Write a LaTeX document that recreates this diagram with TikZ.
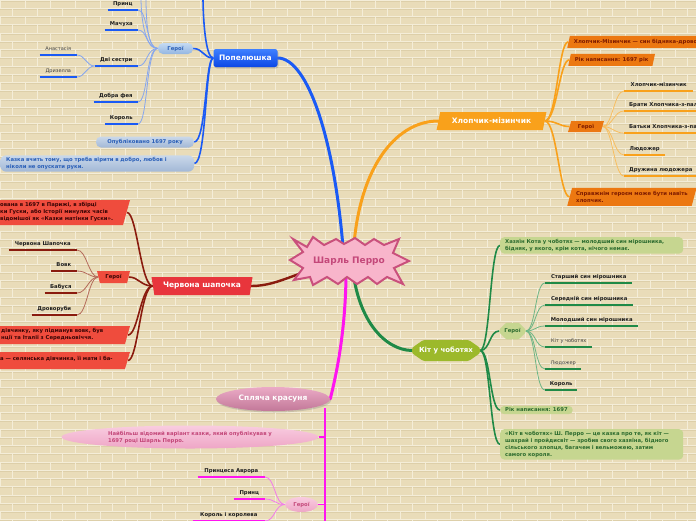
\documentclass[tikz,border=0pt]{standalone}
\usepackage{fontspec}
\setmainfont{DejaVu Sans}
\usetikzlibrary{shapes.geometric,shapes.misc,shadows}
\definecolor{bgc}{HTML}{E9DCB9}
\definecolor{mortar}{HTML}{F4EDD8}
\definecolor{brd}{HTML}{DDCFA9}
\definecolor{blu}{HTML}{1A5AF5}
\definecolor{blul}{HTML}{86A6EE}
\definecolor{popt}{HTML}{3F80FF}
\definecolor{popb}{HTML}{0B47E6}
\definecolor{bgt}{HTML}{C4DAF2}
\definecolor{bgb}{HTML}{94B6E2}
\definecolor{bopt}{HTML}{CAD8EA}
\definecolor{bopb}{HTML}{A2B8D6}
\definecolor{btx}{HTML}{2A5FB8}
\definecolor{org}{HTML}{F9A11B}
\definecolor{orgd}{HTML}{EC7811}
\definecolor{orgl}{HTML}{F8BE60}
\definecolor{orgt}{HTML}{7E1B00}
\definecolor{grn}{HTML}{1F8A47}
\definecolor{grnl}{HTML}{6DB585}
\definecolor{grnf}{HTML}{9CB92B}
\definecolor{grnb}{HTML}{C6D690}
\definecolor{grnt}{HTML}{2C6B2E}
\definecolor{rdd}{HTML}{8A1B0E}
\definecolor{rddl}{HTML}{B46A5A}
\definecolor{rdf}{HTML}{E8353C}
\definecolor{rdb}{HTML}{EF4C3D}
\definecolor{rdt}{HTML}{3A0505}
\definecolor{mag}{HTML}{FF14F0}
\definecolor{magl}{HTML}{F27BEA}
\definecolor{pinkf}{HTML}{F8B5CB}
\definecolor{pinkd}{HTML}{C9507C}
\definecolor{pinkt}{HTML}{C4487A}
\definecolor{splt}{HTML}{EBAAC6}
\definecolor{splb}{HTML}{C27898}
\definecolor{nait}{HTML}{F9CCE0}
\definecolor{naib}{HTML}{EEA6C6}
\pgfdeclarelayer{bricks}
\pgfdeclarelayer{edges}
\pgfdeclarelayer{fills}
\pgfsetlayers{bricks,edges,fills,main}
\tikzset{
  sm/.style={font=\bfseries\fontsize{5.3}{7}\selectfont},
  lite/.style={font=\fontsize{5}{6.5}\selectfont, text=black!75},
  big/.style={font=\bfseries\fontsize{7.5}{9}\selectfont, text=white},
  bar/.style={append after command={(\tikzlastnode.south west) edge[draw=#1, line width=2.3pt] (\tikzlastnode.south east)}},
  leaf/.style={sm, text=black!88, inner xsep=3pt, inner ysep=3.5pt, text height=3.9pt, text depth=1.1pt},
  bleaf/.style={leaf, anchor=south east, minimum width=#1, bar=blu},
  rleaf/.style={leaf, anchor=south east, minimum width=#1, bar=rdd},
  mleaf/.style={leaf, anchor=south east, minimum width=#1, bar=mag},
  oleaf/.style={leaf, anchor=south west, minimum width=#1, inner xsep=5pt, bar=org},
  gleaf/.style={leaf, anchor=south west, minimum width=#1, bar=grn},
  mainedge/.style={line width=3pt, line cap=round},
  subedge/.style={line width=1.6pt},
  leafedge/.style={line width=0.8pt},
  shad/.style={drop shadow={opacity=0.3, shadow xshift=1pt, shadow yshift=-1.5pt}},
  popn/.style={big, rounded corners=2.5pt, minimum width=64pt, minimum height=18pt, top color=popt, bottom color=popb, shad},
  orn/.style={big, trapezium, trapezium left angle=70, trapezium right angle=110, trapezium stretches=true, fill=org, minimum width=110pt, minimum height=18pt, inner sep=1pt},
  osub/.style={orn, sm, text=orgt, fill=orgd, minimum width=0pt, minimum height=12pt, inner xsep=4pt, align=left},
  rdn/.style={big, trapezium, shape border rotate=180, trapezium left angle=75, trapezium right angle=75, trapezium stretches=true, fill=rdf, minimum width=102pt, minimum height=18pt, inner sep=1pt},
  kitn/.style={big, font=\bfseries\fontsize{7}{8}\selectfont, chamfered rectangle, chamfered rectangle xsep=6pt, chamfered rectangle angle=55, rounded corners=1.5pt, fill=grnf, minimum width=68pt, minimum height=21pt, inner sep=1pt},
  spln/.style={big, ellipse, minimum width=114pt, minimum height=24pt, inner sep=0pt, top color=splt, bottom color=splb, shad},
  bpill/.style={sm, text=btx, rounded corners=5pt, minimum height=11pt, inner sep=1pt, top color=bgt, bottom color=bgb},
  gbox/.style={sm, text=grnt, fill=grnb, rounded corners=4pt, align=left, inner xsep=5pt, inner ysep=2pt},
  mell/.style={sm, text=pinkt, ellipse, inner sep=0pt, top color=nait, bottom color=naib},
  burst/.style={fill=pinkf, draw=pinkd, line width=2pt}
}
\begin{document}
\begin{tikzpicture}[x=1pt,y=-1pt]
\useasboundingbox (0,0) rectangle (696,520);
\begin{pgfonlayer}{bricks}
\fill[bgc] (0,0) rectangle (696,520);
\foreach \r in {0,...,63}{
  \pgfmathsetmacro\yy{\r*8.25}
  \pgfmathsetmacro\off{mod(\r,2)*12.5}
  \draw[brd, line width=0.5pt] (0,\yy+0.8) -- (696,\yy+0.8);
  \draw[mortar, line width=0.8pt] (0,\yy) -- (696,\yy);
  \foreach \c in {-1,...,28}{
    \draw[mortar, line width=0.8pt] ({\c*25+\off},\yy) -- ({\c*25+\off},{\yy+8.25});
  }
}
\end{pgfonlayer}

% centre
\draw[burst] (293,239) -- (307,247) -- (313,237) -- (324,245) -- (336,239) -- (344,244) -- (355,238) -- (365,245) -- (374,239) -- (384,245) -- (399,239) -- (393,253) -- (409,261) -- (394,268) -- (403,284) -- (387,277) -- (377,284) -- (368,277) -- (357,284) -- (347,277) -- (338,284) -- (327,277) -- (313,285) -- (310,277) -- (294,280) -- (303,268) -- (290,260) -- (303,252) -- cycle;
\node[font=\bfseries\fontsize{9}{10}\selectfont, text=pinkt] (cp) at (349,261) {Шарль Перро};

% main topics
\node[popn] (pop) at (245.5,58) {Попелюшка};
\node[orn] (klm) at (491.5,121) {Хлопчик-мізинчик};
\node[kitn] (kit) at (446,350.5) {Кіт у чоботях};
\node[rdn] (chs) at (202,286) {Червона шапочка};
\node[spln] (spl) at (273,399) {Спляча красуня};

% blue subtree
\node[bpill, minimum width=35pt] (bg) at (175.5,48.5) {Герої};
\node[bpill, minimum width=98pt, top color=bopt, bottom color=bopb] (bop) at (145,142) {Опубліковано 1697 року};
\node[bpill, anchor=west, align=left, text width=182pt, inner xsep=6pt, inner ysep=2pt, rounded corners=6pt, top color=bopt, bottom color=bopb] (bka) at (0,163.5) {Казка вчить тому, що треба вірити в добро, любов і\\ніколи не опускати руки.};
\node[bleaf=30pt] (b1) at (138,10) {Принц};
\node[bleaf=33pt] (b2) at (138,30) {Мачуха};
\node[bleaf=43pt] (b3) at (138,66) {Дві сестри};
\node[bleaf=44pt] (b4) at (138,102) {Добра фея};
\node[bleaf=33pt] (b5) at (138,124) {Король};
\node[bleaf=37pt, lite] (b31) at (77,55) {Анастасія};
\node[bleaf=37pt, lite] (b32) at (77,77) {Дризелла};
\coordinate (btop) at (203,-3);
\coordinate (bt1) at (141,-3);
\coordinate (bt2) at (146,-3);

% orange subtree
\node[osub, anchor=bottom left corner] (o1) at (567,48) {Хлопчик-Мізинчик — син бідняка-дроворуба};
\node[osub, anchor=bottom left corner] (o2) at (568,66) {Рік написання: 1697 рік};
\node[osub, minimum width=36pt, minimum height=11pt] (og) at (586,126.5) {Герої};
\node[osub, anchor=bottom left corner, minimum height=18pt] (o4) at (567,206) {Справжнім героєм може бути навіть\\хлопчик.};
\node[oleaf=69pt] (ol1) at (624,91) {Хлопчик-мізинчик};
\node[oleaf=80pt] (ol2) at (624,111) {Брати Хлопчика-з-пальчик};
\node[oleaf=80pt] (ol3) at (624,133) {Батьки Хлопчика-з-пальчик};
\node[oleaf=41pt] (ol4) at (624,155) {Людожер};
\node[oleaf=72pt] (ol5) at (624,176) {Дружина людожера};

% green subtree
\node[gbox, anchor=north west, text width=173pt] (g1) at (500,237) {Хазяїн Кота у чоботях — молодший син мірошника,\\бідняк, у якого, крім кота, нічого немає.};
\node[gbox, chamfered rectangle, chamfered rectangle xsep=3pt, rounded corners=1pt, minimum width=25pt, minimum height=12pt, inner xsep=2pt] (gg) at (512.5,331) {Герої};
\node[gbox, anchor=west] (g3) at (500,410) {Рік написання: 1697};
\node[gbox, anchor=north west, text width=173pt] (g4) at (500,429) {«Кіт в чоботях» Ш. Перро — це казка про те, як кіт —\\шахрай і пройдисвіт — зробив свого хазяїна, бідного\\сільського хлопця, багачем і вельможею, затим\\самого короля.};
\node[gleaf=87pt] (gl1) at (545,283) {Старший син мірошника};
\node[gleaf=88pt] (gl2) at (545,305) {Середній син мірошника};
\node[gleaf=93pt] (gl3) at (545,326) {Молодший син мірошника};
\node[gleaf=47pt, lite] (gl4) at (545,347) {Кіт у чоботях};
\node[gleaf=36pt, lite] (gl5) at (545,369) {Людожер};
\node[gleaf=32pt] (gl6) at (545,390) {Король};

% red subtree
\begin{pgfonlayer}{fills}
\fill[rdb] (-2,200) -- (130,200) -- (123,225) -- (-2,225) -- cycle;
\fill[rdb] (-2,326) -- (130,326) -- (125,344) -- (-2,344) -- cycle;
\fill[rdb] (-2,352) -- (130,352) -- (125,369) -- (-2,369) -- cycle;
\end{pgfonlayer}
\node[sm, text=rdt, align=left, anchor=north west, inner sep=0pt] (r1) at (0,202.5) {ована в 1697 в Парижі, в збірці\\ки Гуски, або Історії минулих часів\\відомішої як «Казки матінки Гуски».};
\node[sm, text=rdt, align=left, anchor=north west, inner sep=0pt] (r3) at (1,328) {дівчинку, яку підманув вовк, був\\нції та Італії з Середньовіччя.};
\node[sm, text=rdt, anchor=west, inner sep=0pt] (r4) at (0,359) {а — селянська дівчинка, її мати і ба-};
\coordinate (r1e) at (127,212.5);
\coordinate (r3e) at (128,335);
\coordinate (r4e) at (128,360.5);
\node[rdn, sm, text=rdt, fill=rdb, minimum width=33pt, minimum height=12pt] (rg) at (113.5,277) {Герої};
\node[rleaf=68pt] (rl1) at (77,250) {Червона Шапочка};
\node[rleaf=26pt] (rl2) at (77,271) {Вовк};
\node[rleaf=32pt] (rl3) at (77,293) {Бабуся};
\node[rleaf=45pt] (rl4) at (77,315) {Дроворуби};

% magenta subtree
\node[mell, minimum width=257pt, minimum height=23pt, align=left] (nai) at (190,437) {Найбільш відомий варіант казки, який опублікував у\\1697 році Шарль Перро.};
\node[mell, minimum width=33pt, minimum height=15pt] (mg) at (301.5,504.5) {Герої};
\node[mleaf=67pt] (ml1) at (265,477) {Принцеса Аврора};
\node[mleaf=31pt] (ml2) at (265,499) {Принц};
\node[mleaf=72pt] (ml3) at (265,521) {Король і королева};
\coordinate (mt) at (325,408);
\coordinate (mb) at (325,524);

\begin{pgfonlayer}{edges}
% main branches
\draw[mainedge, blu] (pop.east) .. controls +(30,0) and +(-8,-120) .. ([xshift=-5pt]cp.center);
\draw[mainedge, org] ([xshift=4pt]cp.center) .. controls (356,170) and (395,121) .. (klm.west);
\draw[mainedge, grn] ([xshift=3pt]cp.center) .. controls (356,320) and (385,350) .. (kit.west);
\draw[mainedge, rdd, line width=2.4pt] (chs.east) .. controls +(30,0) and (300,268) .. (cp.center);
\draw[mainedge, mag] ([xshift=-3pt]cp.center) .. controls (347,330) and (335,380) .. (spl.east);
% blue
\draw[subedge, blu] (pop.west) .. controls +(-10,0) and +(10,0) .. (bg.east);
\draw[subedge, blu] (pop.west) .. controls +(-8,0) and +(12,0) .. (bop.east);
\draw[subedge, blu] (pop.west) .. controls +(-8,0) and +(12,0) .. (bka.east);
\draw[subedge, blu] (pop.west) .. controls +(-8,0) and +(0,20) .. (btop);
\foreach \n in {b1,b2,b3,b4,b5}
  \draw[leafedge, blul] (bg.west) .. controls +(-12,0) and +(10,0) .. (\n.south east);
\draw[leafedge, blul] (bg.west) .. controls +(-12,0) and +(0,25) .. (bt1);
\draw[leafedge, blul] (bg.west) .. controls +(-10,0) and +(0,25) .. (bt2);
\foreach \n in {b31,b32}
  \draw[leafedge, blul] (b3.south west) .. controls +(-8,0) and +(8,0) .. (\n.south east);
% orange
\foreach \n in {o1,o2,og,o4}
  \draw[subedge, org] (klm.east) .. controls +(12,0) and +(-10,0) .. (\n.west);
\foreach \n in {ol1,ol2,ol3,ol4,ol5}
  \draw[leafedge, orgl] (og.east) .. controls +(10,0) and +(-10,0) .. (\n.south west);
% green
\foreach \n in {g1,gg,g3,g4}
  \draw[subedge, grn] (kit.east) .. controls +(10,0) and +(-10,0) .. (\n.west);
\foreach \n in {gl1,gl2,gl3,gl4,gl5,gl6}
  \draw[leafedge, grnl] (gg.east) .. controls +(10,0) and +(-10,0) .. (\n.south west);
% red
\foreach \n in {r1e,r3e,r4e}
  \draw[subedge, rdd] (chs.west) .. controls +(-12,0) and +(10,0) .. (\n);
\draw[subedge, rdd] (chs.west) .. controls +(-12,0) and +(10,0) .. (rg.east);
\foreach \n in {rl1,rl2,rl3,rl4}
  \draw[leafedge, rddl] (rg.west) .. controls +(-10,0) and +(10,0) .. (\n.south east);
% magenta
\draw[subedge, mag] (mt) -- (mb);
\draw[subedge, mag] (mt) |- (nai.east);
\draw[subedge, mag] (mt) |- (mg.east);
\foreach \n in {ml1,ml2,ml3}
  \draw[leafedge, magl] (mg.west) .. controls +(-10,0) and +(10,0) .. (\n.south east);
\end{pgfonlayer}
\end{tikzpicture}
\end{document}
